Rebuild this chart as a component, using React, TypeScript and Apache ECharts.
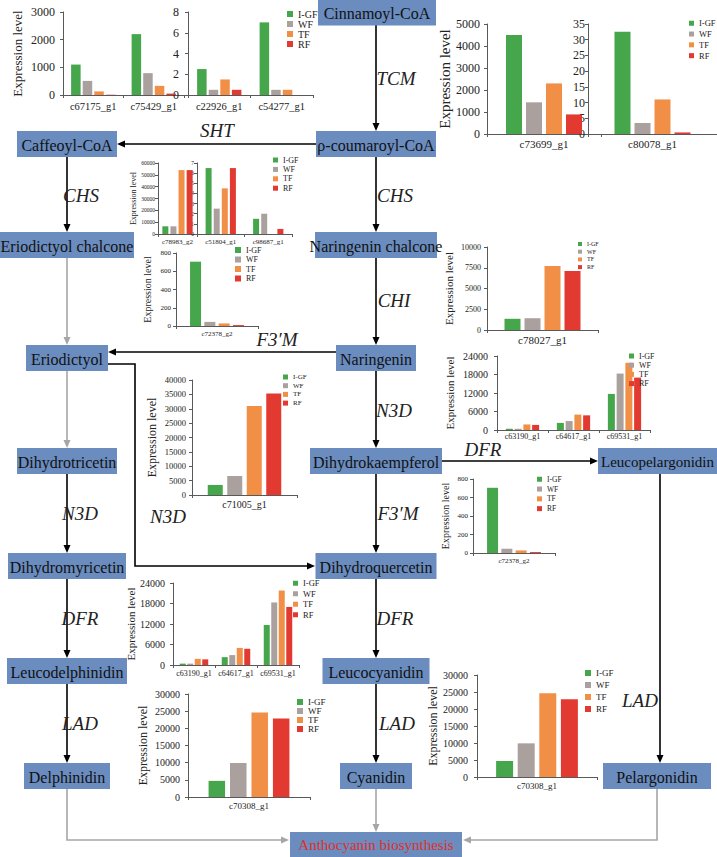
import React, { useEffect, useRef } from "react";
import * as echarts from "echarts";

const FONT = "Liberation Serif, Times New Roman, serif";

// groups and colours
const groups = ["I-GF", "WF", "TF", "RF"];
const groupColors = ["#46a64b", "#aaa19f", "#f28f47", "#e23a30"];

// expression level per gene (I-GF, WF, TF, RF)
const c67175_g1 = [1100, 510, 130, 10];
const c75429_g1 = [2200, 790, 330, 50];
const c22926_g1 = [2.5, 0.5, 1.5, 0.5];
const c54277_g1 = [7, 0.5, 0.5, 0];
const c73699_g1 = [4500, 1440, 2300, 890];
const c80078_g1 = [32.5, 3.5, 11, 0.5];
const c78983_g2 = [6500, 6500, 54000, 54000];
const c51804_g1 = [6.5, 2.5, 4.5, 6.5];
const c98687_g1 = [1.5, 2, 0, 0.5];
const c72378_g2 = [705, 45, 28, 10];
const c78027_g1 = [1350, 1420, 7700, 7100];
const c63190_g1 = [400, 400, 1800, 1650];
const c64617_g1 = [2300, 2900, 5000, 4750];
const c69531_g1 = [11700, 18300, 21800, 17000];
const c71005_g1 = [3500, 6600, 31000, 35300];
const c70308_g1 = [4700, 9900, 24600, 22900];

const geneTable: Record<string, number[]> = {
  c67175_g1, c75429_g1, c22926_g1, c54277_g1, c73699_g1, c80078_g1,
  c78983_g2, c51804_g1, c98687_g1, c72378_g2, c78027_g1, c63190_g1,
  c64617_g1, c69531_g1, c71005_g1, c70308_g1,
};

// panel layout: genes, axis range, grid rect [left, top, width, height], styles
const panels: any[] = [
  { genes: ["c67175_g1", "c75429_g1"], max: 3000, step: 1000, rect: [63, 12, 121, 83], bar: 9.5, gap: "22%", tick: 12, cat: 10.5, cm: 6, lm: 8, name: 13, ng: 39 },
  { genes: ["c22926_g1", "c54277_g1"], max: 8, step: 2, rect: [188, 12, 125, 83], bar: 9.5, gap: "22%", tick: 12, cat: 10.5, cm: 6, lm: 9 },
  { genes: ["c73699_g1"], max: 5000, step: 1000, rect: [487, 24, 114, 110], bar: 16, gap: "25%", tick: 12, cat: 11, lm: 7, name: 15, ng: 35 },
  { genes: ["c80078_g1"], max: 35, step: 5, rect: [588, 24, 135, 110], bar: 16, gap: "25%", tick: 12, cat: 11, lm: 3 },
  { genes: ["c78983_g2"], max: 60000, step: 10000, rect: [158, 163, 39, 71], bar: 6, gap: "35%", tick: 5.5, cat: 7, lm: 3, name: 8, ng: 15 },
  { genes: ["c51804_g1", "c98687_g1"], max: 7, step: 1, rect: [197, 163, 95, 71], bar: 6, gap: "35%", tick: 5.5, cat: 7, lm: 3 },
  { genes: ["c72378_g2"], max: 800, step: 200, rect: [176, 253, 82, 73], bar: 11, gap: "30%", tick: 7, cat: 7, lm: 5, name: 10, ng: 24 },
  { genes: ["c78027_g1"], max: 10000, step: 2500, rect: [487, 247, 111, 83], bar: 16, gap: "25%", tick: 8, cat: 11, lm: 6, name: 11, ng: 33 },
  { genes: ["c63190_g1", "c64617_g1", "c69531_g1"], max: 24000, step: 6000, rect: [497, 356, 153, 74], bar: 7, gap: "25%", tick: 10, cat: 8, cm: 2, lm: 9, name: 11, ng: 42 },
  { genes: ["c71005_g1"], max: 40000, step: 5000, rect: [192, 380, 105, 115], bar: 15, gap: "30%", tick: 8.5, cat: 10, lm: 6, name: 12, ng: 34 },
  { genes: ["c72378_g2"], max: 800, step: 200, rect: [473, 479, 82, 74], bar: 11, gap: "30%", tick: 7, cat: 7, lm: 5, name: 10, ng: 23 },
  { genes: ["c63190_g1", "c64617_g1", "c69531_g1"], max: 24000, step: 6000, rect: [173, 583, 126, 82], bar: 6, gap: "25%", tick: 10, cat: 8, lm: 8, name: 11, ng: 32 },
  { genes: ["c70308_g1"], max: 30000, step: 5000, rect: [188, 694, 122, 103], bar: 16.5, gap: "30%", tick: 10, cat: 9, lm: 8, name: 12, ng: 39 },
  { genes: ["c70308_g1"], max: 30000, step: 5000, rect: [477, 675, 120, 102], bar: 17, gap: "27%", tick: 10, cat: 9, lm: 9, name: 12, ng: 38 },
];

// legends: [left, first item centre y, font size, spacing, icon size]
const legendSpecs = [
  [287, 14, 10, 9.7, 6],
  [689, 23, 8.5, 10.3, 5],
  [273, 160, 8, 9.4, 5],
  [235, 250, 8, 9.5, 6],
  [578, 244, 6, 7.7, 4],
  [629, 356, 8, 9.2, 5],
  [283, 377, 7, 8.7, 5],
  [537, 479, 7.5, 9.3, 5],
  [293, 583, 8.5, 10, 5],
  [297, 702, 9, 8.9, 6],
  [585, 673, 9, 12, 6],
];

// pathway diagram: [label, centre x, centre y, box width, font size]
const BOX_COLOR = "#6a8cbf";
const nodes: [string, number, number, number, number][] = [
  ["Cinnamoyl-CoA", 377, 12.5, 118, 16],
  ["ρ-coumaroyl-CoA", 376, 144, 120, 16],
  ["Caffeoyl-CoA", 67, 144, 100, 16],
  ["Eriodictyol chalcone", 67, 245, 134, 16],
  ["Naringenin chalcone", 376, 245, 122, 16],
  ["Eriodictyol", 67, 358, 82, 16],
  ["Naringenin", 376, 358, 80, 16],
  ["Dihydrotricetin", 67, 461, 100, 16],
  ["Dihydrokaempferol", 376, 461, 132, 16],
  ["Leucopelargonidin", 657.5, 461, 119, 15],
  ["Dihydromyricetin", 67, 566, 118, 16],
  ["Dihydroquercetin", 376, 566, 121, 16],
  ["Leucodelphinidin", 67, 671, 120, 16],
  ["Leucocyanidin", 376, 671, 107, 16],
  ["Delphinidin", 67, 776, 86, 16],
  ["Cyanidin", 376, 776, 72, 16],
  ["Pelargonidin", 657, 776, 108, 16],
];
const BLACK = "#000000";
const GRAY = "#a6a6a6";
const arrows: [number[][], string][] = [
  [[[376, 25], [376, 131]], BLACK],
  [[[317, 144], [117, 144]], BLACK],
  [[[67, 157], [67, 232]], BLACK],
  [[[376, 157], [376, 232]], BLACK],
  [[[67, 258], [67, 345]], GRAY],
  [[[376, 258], [376, 345]], BLACK],
  [[[336, 352], [108, 352]], BLACK],
  [[[108, 364], [135, 364], [135, 566], [315, 566]], BLACK],
  [[[67, 371], [67, 448]], GRAY],
  [[[376, 371], [376, 448]], BLACK],
  [[[442, 461], [598, 461]], BLACK],
  [[[67, 474], [67, 553]], BLACK],
  [[[376, 474], [376, 553]], BLACK],
  [[[67, 579], [67, 658]], BLACK],
  [[[376, 579], [376, 658]], BLACK],
  [[[660, 474], [660, 763]], BLACK],
  [[[67, 684], [67, 763]], BLACK],
  [[[376, 684], [376, 763]], BLACK],
  [[[67, 789], [67, 840], [289, 840]], GRAY],
  [[[376, 789], [376, 832]], GRAY],
  [[[657, 789], [657, 840], [463, 840]], GRAY],
];
const enzymes: [string, number, number][] = [
  ["TCM", 396, 78],
  ["SHT", 217, 130],
  ["CHS", 81, 195],
  ["CHS", 395, 195],
  ["CHI", 394, 300],
  ["F3′M", 277, 339],
  ["N3D", 394, 410],
  ["DFR", 483, 449],
  ["N3D", 80, 513],
  ["N3D", 168, 516],
  ["F3′M", 398, 513],
  ["DFR", 80, 618],
  ["DFR", 395, 618],
  ["LAD", 80, 723],
  ["LAD", 397, 723],
  ["LAD", 640, 700],
];

function arrowEls(pts: number[][], color: string) {
  const head = 8, hw = 3.5;
  const n = pts.length;
  const [x2, y2] = pts[n - 1];
  const [x1, y1] = pts[n - 2];
  const dx = x2 - x1, dy = y2 - y1;
  const L = Math.hypot(dx, dy);
  const ux = dx / L, uy = dy / L;
  const bx = x2 - ux * head, by = y2 - uy * head;
  const line = pts.slice(0, n - 1).concat([[bx, by]]);
  return [
    { type: "polyline", silent: true, z: 1, shape: { points: line }, style: { stroke: color, lineWidth: 1.6, fill: null } },
    {
      type: "polygon", silent: true, z: 1,
      shape: { points: [[x2, y2], [bx - uy * hw, by + ux * hw], [bx + uy * hw, by - ux * hw]] },
      style: { fill: color },
    },
  ];
}

function textEl(text: string, x: number, y: number, size: number, color: string, italic = false) {
  return {
    type: "text", silent: true, z: 3, x, y,
    style: {
      text, fill: color, fontSize: size, fontFamily: FONT, fontStyle: italic ? "italic" : "normal",
      align: "center", verticalAlign: "middle", textAlign: "center", textVerticalAlign: "middle",
    },
  };
}

function buildOption() {
  const grid: any[] = [], xAxis: any[] = [], yAxis: any[] = [], series: any[] = [];
  panels.forEach((p, i) => {
    const [left, top, width, height] = p.rect;
    grid.push({ left, top, width, height, containLabel: false });
    xAxis.push({
      type: "category", gridIndex: i, data: p.genes,
      axisLine: { lineStyle: { color: "#595959", width: 1 } },
      axisTick: { show: true, length: 3, lineStyle: { color: "#595959" } },
      axisLabel: { interval: 0, fontSize: p.cat, fontFamily: FONT, color: "#222", margin: p.cm ?? 4 },
    });
    yAxis.push({
      type: "value", gridIndex: i, min: 0, max: p.max, interval: p.step,
      name: p.name ? "Expression level" : "",
      nameLocation: "middle", nameRotate: 90, nameGap: p.ng || 30,
      nameTextStyle: { fontSize: p.name || 10, fontFamily: FONT, color: "#222" },
      axisLine: { show: true, lineStyle: { color: "#595959", width: 1 } },
      axisTick: { show: true, length: 3, lineStyle: { color: "#595959" } },
      splitLine: { show: false },
      axisLabel: { fontSize: p.tick, fontFamily: FONT, color: "#222", margin: p.lm, formatter: (v: number) => String(v) },
    });
    groups.forEach((g, gi) => {
      series.push({
        type: "bar", name: g, xAxisIndex: i, yAxisIndex: i,
        data: p.genes.map((gene: string) => geneTable[gene][gi]),
        barWidth: p.bar, barGap: p.gap,
        itemStyle: { color: groupColors[gi] },
      });
    });
  });

  const legend = legendSpecs.map(([left, cy, fs, sp, icon]) => ({
    left, top: cy - fs / 2, orient: "vertical", padding: 0,
    itemWidth: icon, itemHeight: icon, itemGap: Math.max(0, sp - fs),
    icon: "rect", selectedMode: false, data: groups,
    textStyle: { fontSize: fs, lineHeight: fs, fontFamily: FONT, color: "#222" },
  }));

  const elements: any[] = [];
  arrows.forEach(([pts, c]) => elements.push(...arrowEls(pts, c)));
  nodes.forEach(([label, cx, cy, w, fs]) => {
    elements.push({ type: "rect", silent: true, z: 2, shape: { x: cx - w / 2, y: cy - 13, width: w, height: 26 }, style: { fill: BOX_COLOR } });
    elements.push(textEl(label, cx, cy + 1, fs, "#111"));
  });
  elements.push({ type: "rect", silent: true, z: 2, shape: { x: 290, y: 832, width: 172, height: 25 }, style: { fill: BOX_COLOR } });
  elements.push(textEl("Anthocyanin biosynthesis", 376, 845, 15, "#e0302a"));
  enzymes.forEach(([t, x, y]) => elements.push(textEl(t, x, y, 19, "#222", true)));

  return {
    animation: false,
    backgroundColor: "#ffffff",
    textStyle: { fontFamily: FONT },
    grid, xAxis, yAxis, series, legend,
    graphic: { elements },
  };
}

export default function App() {
  const ref = useRef<HTMLDivElement>(null);
  useEffect(() => {
    if (!ref.current) return;
    const chart = echarts.init(ref.current, null, { renderer: "svg" });
    chart.setOption(buildOption() as any);
    return () => chart.dispose();
  }, []);
  return <div ref={ref} style={{ position: "absolute", left: 0, top: 0, width: 717, height: 857 }} />;
}
